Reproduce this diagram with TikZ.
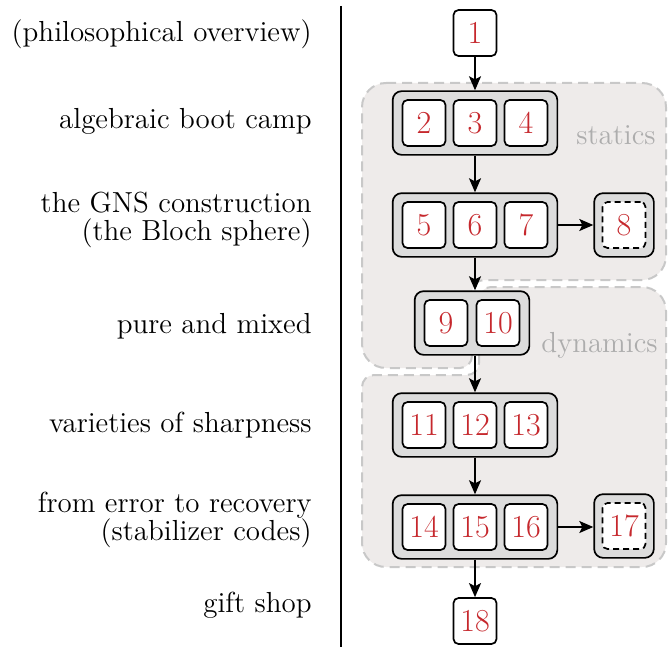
\documentclass[tikz,border=0pt]{standalone}
\usetikzlibrary{arrows.meta,fit,backgrounds}
\definecolor{numred}{RGB}{198,40,45}
\definecolor{regionfill}{HTML}{EEEBEA}
\definecolor{regiondraw}{HTML}{C8C8C8}
\definecolor{groupfill}{HTML}{DCDCDC}
\definecolor{labelgray}{HTML}{ADADAD}
\pgfdeclarelayer{regionlayer}
\pgfdeclarelayer{grouplayer}
\pgfsetlayers{regionlayer,grouplayer,main}
\begin{document}
\begin{tikzpicture}[x=0.5pt,y=-0.5pt,
  font=\fontsize{14.5pt}{14pt}\selectfont,
  numbox/.style={draw, line width=0.85pt, rounded corners=2.5pt, fill=white,
    minimum width=21.5pt, minimum height=23pt, inner sep=0pt, text=numred,
    font=\fontsize{16pt}{16pt}\selectfont},
  numdash/.style={numbox, dash pattern=on 3pt off 2pt},
  grp/.style={draw, line width=0.85pt, rounded corners=4.5pt, fill=groupfill,
    inner xsep=4.5pt, inner ysep=4pt},
  grpsmall/.style={grp, inner xsep=3.75pt, inner ysep=4pt},
  region/.style={fill=regionfill, draw=regiondraw, line width=1pt,
    dash pattern=on 5pt off 3pt},
  lbl/.style={anchor=base east, inner sep=0pt},
  lbltwo/.style={anchor=east, align=right, inner sep=0pt},
  reglbl/.style={anchor=base east, inner sep=0pt, text=labelgray},
  arr/.style={-{Stealth[length=7pt,width=6pt,inset=1.5pt]}, line width=0.75pt}
]
\useasboundingbox (0,0) rectangle (668,647);

% left labels
\node[lbl] (l1) at (312,42) {(philosophical overview)};
\node[lbl] (l2) at (312,128) {algebraic boot camp};
\node[lbltwo] (l3) at (312,220) {the GNS construction\\(the Bloch sphere)};
\node[lbl] (l4) at (312,333) {pure and mixed};
\node[lbl] (l5) at (312,432) {varieties of sharpness};
\node[lbltwo] (l6) at (312,520) {from error to recovery\\(stabilizer codes)};
\node[lbl] (l7) at (312,612) {gift shop};

% divider
\coordinate (dtop) at (341,6);
\coordinate (dbot) at (341,647);
\draw[line width=0.7pt] (dtop) -- (dbot);

% number boxes
\node[numbox] (n1) at (475,33) {1};
\node[numbox] (n2) at (424,123) {2};
\node[numbox] (n3) at (475,123) {3};
\node[numbox] (n4) at (526,123) {4};
\node[numbox] (n5) at (424,225) {5};
\node[numbox] (n6) at (475,225) {6};
\node[numbox] (n7) at (526,225) {7};
\node[numdash] (n8) at (624,225) {8};
\node[numbox] (n9) at (446,323) {9};
\node[numbox] (n10) at (498,323) {10};
\node[numbox] (n11) at (424,425) {11};
\node[numbox] (n12) at (475,425) {12};
\node[numbox] (n13) at (526,425) {13};
\node[numbox] (n14) at (424,527) {14};
\node[numbox] (n15) at (475,527) {15};
\node[numbox] (n16) at (526,527) {16};
\node[numdash] (n17) at (624,526) {17};
\node[numbox] (n18) at (475,621) {18};

% group frames
\begin{pgfonlayer}{grouplayer}
\node[grp, fit=(n2)(n4)] (g2) {};
\node[grp, fit=(n5)(n7)] (g3) {};
\node[grpsmall, fit=(n8)] (g8) {};
\node[grp, fit=(n9)(n10)] (g4) {};
\node[grp, fit=(n11)(n13)] (g5) {};
\node[grp, fit=(n14)(n16)] (g6) {};
\node[grpsmall, fit=(n17)] (g17) {};
\end{pgfonlayer}

% regions
\begin{pgfonlayer}{regionlayer}
\draw[region, rounded corners=12pt] (362,83) -- (666,83) -- (666,280)
  [rounded corners=6pt] -- (472,280) -- (472,368) [rounded corners=12pt] -- (362,368) -- cycle;
\draw[region, rounded corners=12pt] (666,287) -- (666,567) -- (362,567)
  [rounded corners=6pt] -- (362,375) -- (479,375) -- (479,287) [rounded corners=12pt] -- cycle;
\end{pgfonlayer}
\node[reglbl] (rs) at (656,144) {statics};
\node[reglbl] (rd) at (658,352) {dynamics};

% arrows
\draw[arr] (n1.south) -- (g2.north);
\draw[arr] (g2.south) -- (g3.north);
\draw[arr] (g3.south) -- (g3.south |- g4.north);
\draw[arr] (g5.north |- g4.south) -- (g5.north);
\draw[arr] (g5.south) -- (g6.north);
\draw[arr] (g6.south) -- (n18.north);
\draw[arr] (g3.east) -- (g3.east -| g8.west);
\draw[arr] (g6.east) -- (g6.east -| g17.west);
\end{tikzpicture}
\end{document}
